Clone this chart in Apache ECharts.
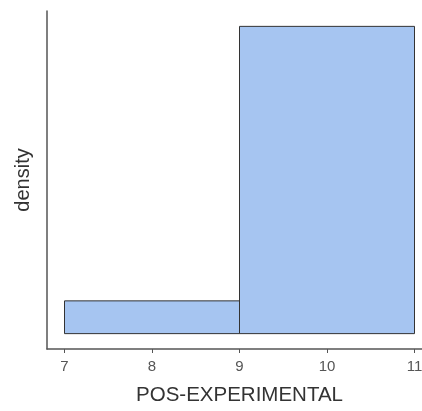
<!DOCTYPE html>
<html>
<head>
<meta charset="utf-8">
<script src="https://cdn.jsdelivr.net/npm/echarts@6/dist/echarts.min.js"></script>
<style>
  html, body { margin: 0; padding: 0; background: #fff; overflow: hidden; }
  /* the plot runs a little past the right edge of the window, as in the reference */
  #chart { width: 432px; height: 411px; }
</style>
</head>
<body>
<div id="chart"></div>
<script>
// histogram bins: [start, end] and density
const binStarts = [7, 9]
const binEnds = [9, 11]
const densities = [0.048, 0.45]
const xTicks = [7, 8, 9, 10, 11]

const chart = echarts.init(document.getElementById('chart'))

chart.setOption({
  animation: false,
  textStyle: { fontFamily: 'Liberation Sans, Arial, sans-serif' },
  grid: { left: 47, right: 0, top: 11, bottom: 60 },
  xAxis: {
    type: 'value',
    min: 6.8,
    max: 11.2,
    name: 'POS-EXPERIMENTAL',
    nameLocation: 'middle',
    nameGap: 36,
    nameTextStyle: { fontSize: 20.5, color: '#333' },
    axisLine: { show: true, onZero: false, lineStyle: { color: '#555', width: 1.5 } },
    axisTick: { show: true, length: 4, customValues: xTicks, lineStyle: { color: '#555' } },
    axisLabel: { customValues: xTicks, fontSize: 15, color: '#555', margin: 10 },
    splitLine: { show: false }
  },
  yAxis: {
    type: 'value',
    min: -0.0225,
    max: 0.4725,
    name: 'density',
    nameLocation: 'middle',
    nameGap: 14,
    nameTextStyle: { fontSize: 20, color: '#333' },
    axisLine: { show: true, onZero: false, lineStyle: { color: '#555', width: 1.5 } },
    axisTick: { show: false },
    axisLabel: { show: false },
    splitLine: { show: false }
  },
  series: [
    {
      type: 'custom',
      data: binStarts.map((s, i) => [s, binEnds[i], densities[i]]),
      renderItem(params, api) {
        const p0 = api.coord([api.value(0), 0])
        const p1 = api.coord([api.value(1), api.value(2)])
        return {
          type: 'rect',
          shape: { x: p0[0], y: p1[1], width: p1[0] - p0[0], height: p0[1] - p1[1] },
          style: { fill: '#A6C5F1', stroke: '#333', lineWidth: 1 }
        }
      },
      encode: { x: [0, 1], y: 2 }
    }
  ]
})
</script>
</body>
</html>
